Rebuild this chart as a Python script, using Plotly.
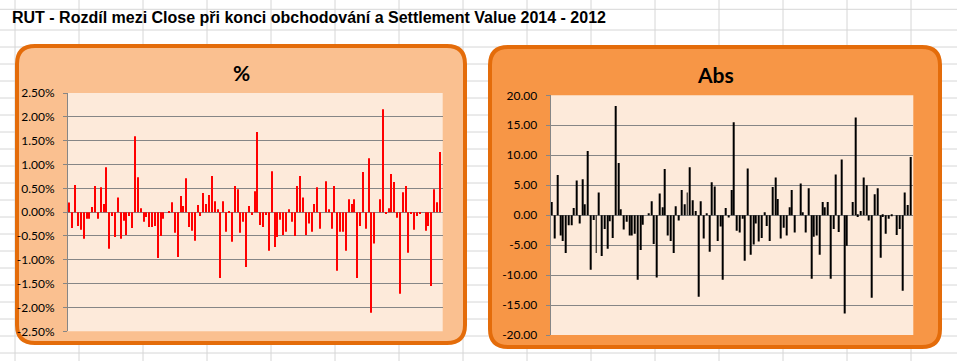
import plotly.graph_objects as go

# ---------------- data ----------------
periods = list(range(1, 132))

pct_diff = [0.20, -0.33, 0.57, -0.29, -0.37, -0.56, -0.14, -0.14, 0.11, 0.55,
            -0.14, 0.52, 0.17, 0.94, -0.77, -0.08, -0.52, 0.31, -0.56, -0.18,
            -0.48, -0.08, -0.33, 1.59, 0.73, 0.08, -0.20, -0.10, -0.31, -0.31,
            -0.29, -0.96, -0.50, -0.14, 0.00, 0.02, 0.21, -0.43, -0.94, 0.34,
            0.13, 0.71, -0.31, -0.39, -0.60, 0.15, -0.08, 0.40, 0.17, 0.36,
            0.76, 0.23, 0.06, -1.38, 0.23, -0.41, 0.02, -0.62, 0.55, 0.48,
            -0.43, -0.20, -1.15, 0.13, -0.06, 0.44, 1.68, -0.27, -0.31, -0.06,
            -0.81, 0.86, -0.73, -0.52, -0.16, -0.48, -0.41, 0.06, -0.20, -0.50,
            0.55, 0.76, 0.31, -0.48, -0.24, -0.41, 0.17, 0.52, -0.35, 0.00,
            0.65, 0.06, -0.35, 0.55, -1.23, -0.41, -0.41, -0.81, 0.27, 0.17,
            0.27, -1.38, -0.29, 0.84, -0.35, 1.13, -2.11, -0.66, 0.00, 0.27,
            2.16, -0.03, 0.08, 0.80, 0.63, -0.12, -1.71, 0.42, 0.55, -0.85,
            -0.03, -0.37, -0.08, -0.03, 0.00, -0.39, -0.29, -1.55, 0.48, 0.21,
            1.26]

abs_diff = [2.2, -3.9, 6.7, -3.4, -4.3, -6.3, -1.7, -1.7, 1.2, 5.8,
            -1.4, 6.0, 1.8, 10.7, -9.1, -0.8, -6.3, 3.8, -6.8, -2.3,
            -5.6, -1.0, -3.8, 18.2, 8.7, 1.0, -2.4, -1.1, -3.4, -3.4,
            -3.1, -10.8, -5.8, -1.6, 0.0, 0.2, 2.3, -4.8, -10.4, 3.6,
            1.3, 7.7, -3.4, -4.3, -6.3, 1.5, -0.9, 4.2, 1.8, 3.8,
            8.0, 2.5, 0.7, -13.6, 2.3, -3.9, 0.2, -6.1, 5.5, 4.8,
            -4.3, -1.9, -10.8, 1.2, -0.4, 4.2, 15.5, -2.6, -2.9, -0.6,
            -7.6, 7.8, -6.6, -4.9, -1.4, -4.4, -3.8, 0.5, -1.8, -4.3,
            4.7, 6.3, 2.7, -3.9, -2.1, -3.4, 1.3, 4.2, -2.9, 0.0,
            5.3, 0.5, -2.9, 4.5, -10.6, -3.6, -3.4, -6.6, 2.2, 1.3,
            2.2, -10.6, -2.3, 6.8, -2.8, 9.3, -16.4, -5.1, 0.0, 2.2,
            16.3, -0.3, 0.7, 6.3, 5.0, -0.9, -13.8, 3.5, 4.5, -7.1,
            -0.3, -3.1, -0.6, -0.2, 0.0, -3.3, -2.3, -12.6, 3.8, 1.7,
            9.7]

pct_ticks = [2.5, 2.0, 1.5, 1.0, 0.5, 0.0, -0.5, -1.0, -1.5, -2.0, -2.5]
pct_ticktext = [f"{v:.2f}%" for v in pct_ticks]
abs_ticks = [20, 15, 10, 5, 0, -5, -10, -15, -20]
abs_ticktext = [f"{v:.2f}" for v in abs_ticks]

main_title = "RUT - Rozdíl mezi Close při konci obchodování a Settlement Value 2014 - 2012"
left_title = "%"
right_title = "Abs"

# ---------------- layout helpers ----------------
W, H = 957, 361


def X(px):
    return px / W


def Y(py):
    return 1 - py / H


def rounded_path(x0, y0, x1, y1, r):
    pts = [
        f"M {X(x0 + r)},{Y(y0)}",
        f"L {X(x1 - r)},{Y(y0)}",
        f"Q {X(x1)},{Y(y0)} {X(x1)},{Y(y0 + r)}",
        f"L {X(x1)},{Y(y1 - r)}",
        f"Q {X(x1)},{Y(y1)} {X(x1 - r)},{Y(y1)}",
        f"L {X(x0 + r)},{Y(y1)}",
        f"Q {X(x0)},{Y(y1)} {X(x0)},{Y(y1 - r)}",
        f"L {X(x0)},{Y(y0 + r)}",
        f"Q {X(x0)},{Y(y0)} {X(x0 + r)},{Y(y0)}",
        "Z",
    ]
    return " ".join(pts)


GRID = "#868686"
BORDER = "#E46C0A"
PLOT_BG = "#FDEADA"
SHEET_GRID = "#D6D6D6"
TICKFONT = dict(family="Lato, Open Sans, sans-serif", size=12, color="#000000")

# plot-area pixel boxes (left, top, right, bottom)
left_box = (68, 93, 442.7, 331.3)
right_box = (550.7, 95.3, 913.3, 335)

fig = go.Figure()

fig.add_trace(go.Bar(x=periods, y=pct_diff, marker=dict(color="#FF0000", line=dict(width=0)),
                     xaxis="x", yaxis="y", showlegend=False))
fig.add_trace(go.Bar(x=periods, y=abs_diff, marker=dict(color="#000000", line=dict(width=0)),
                     xaxis="x2", yaxis="y2", showlegend=False))

shapes = []
# spreadsheet cell grid
for cx in range(15, W, 64):
    shapes.append(dict(type="line", xref="paper", yref="paper", x0=X(cx), x1=X(cx), y0=0, y1=1,
                       line=dict(color=SHEET_GRID, width=1), layer="below"))
rows = [9.3] + list(range(30, H + 1, 17))
for ry in rows:
    shapes.append(dict(type="line", xref="paper", yref="paper", x0=0, x1=1, y0=Y(ry), y1=Y(ry),
                       line=dict(color=SHEET_GRID, width=1), layer="below"))
# chart frames
shapes.append(dict(type="path", xref="paper", yref="paper", path=rounded_path(17, 46, 465, 343, 18),
                   fillcolor="#FAC090", line=dict(color=BORDER, width=4), layer="below"))
shapes.append(dict(type="path", xref="paper", yref="paper", path=rounded_path(490, 47, 940, 347, 18),
                   fillcolor="#F79646", line=dict(color=BORDER, width=4), layer="below"))
# plot-area fills
for (l, t, r, b) in (left_box, right_box):
    shapes.append(dict(type="rect", xref="paper", yref="paper", x0=X(l), x1=X(r), y0=Y(b), y1=Y(t),
                       fillcolor=PLOT_BG, line=dict(width=0), layer="below"))

annotations = [
    dict(text=f"<b>{main_title}</b>", x=X(10), y=Y(18), xref="paper", yref="paper",
         xanchor="left", yanchor="middle", showarrow=False,
         font=dict(family="Liberation Sans Narrow, Arial Narrow, Liberation Sans, Arial", size=16, color="#000000")),
    dict(text=f"<b>{left_title}</b>", x=X(241), y=Y(72), xref="paper", yref="paper",
         xanchor="center", yanchor="middle", showarrow=False,
         font=dict(family="Lato, Open Sans, sans-serif", size=21, color="#000000")),
    dict(text=f"<b>{right_title}</b>", x=X(715), y=Y(74), xref="paper", yref="paper",
         xanchor="center", yanchor="middle", showarrow=False,
         font=dict(family="Lato, Open Sans, sans-serif", size=21, color="#000000")),
]

xaxis_common = dict(range=[0.5, 132], showticklabels=False, showgrid=False, zeroline=False,
                    showline=False, ticks="", fixedrange=True)

fig.update_layout(
    width=W, height=H, autosize=False,
    margin=dict(l=0, r=0, t=0, b=0),
    paper_bgcolor="#FFFFFF",
    plot_bgcolor="rgba(0,0,0,0)",
    bargap=0.64,
    shapes=shapes,
    annotations=annotations,
    xaxis=dict(domain=[X(left_box[0]), X(left_box[2])], anchor="y", **xaxis_common),
    yaxis=dict(domain=[Y(left_box[3]), Y(left_box[1])], anchor="x", range=[-2.5, 2.5],
               tickmode="array", tickvals=pct_ticks, ticktext=pct_ticktext,
               showgrid=True, gridcolor=GRID, gridwidth=1,
               zeroline=True, zerolinecolor=GRID, zerolinewidth=1,
               showline=True, linecolor=GRID, linewidth=1,
               ticks="outside", ticklen=4, tickcolor=GRID, tickwidth=1,
               ticklabelstandoff=6, tickfont=TICKFONT, automargin=False),
    xaxis2=dict(domain=[X(right_box[0]), X(right_box[2])], anchor="y2", **xaxis_common),
    yaxis2=dict(domain=[Y(right_box[3]), Y(right_box[1])], anchor="x2", range=[-20, 20],
                tickmode="array", tickvals=abs_ticks, ticktext=abs_ticktext,
                showgrid=True, gridcolor=GRID, gridwidth=1,
                zeroline=True, zerolinecolor=GRID, zerolinewidth=1,
                showline=True, linecolor=GRID, linewidth=1,
                ticks="outside", ticklen=4, tickcolor=GRID, tickwidth=1,
                ticklabelstandoff=6, tickfont=TICKFONT, automargin=False),
)

page_css = ("document.documentElement.style.margin='0px';"
            "document.body.style.margin='0px';"
            "document.body.style.overflow='hidden';"
            "document.documentElement.style.overflow='hidden';")

fig.write_html("out.html", config={"displayModeBar": False}, post_script=page_css)
